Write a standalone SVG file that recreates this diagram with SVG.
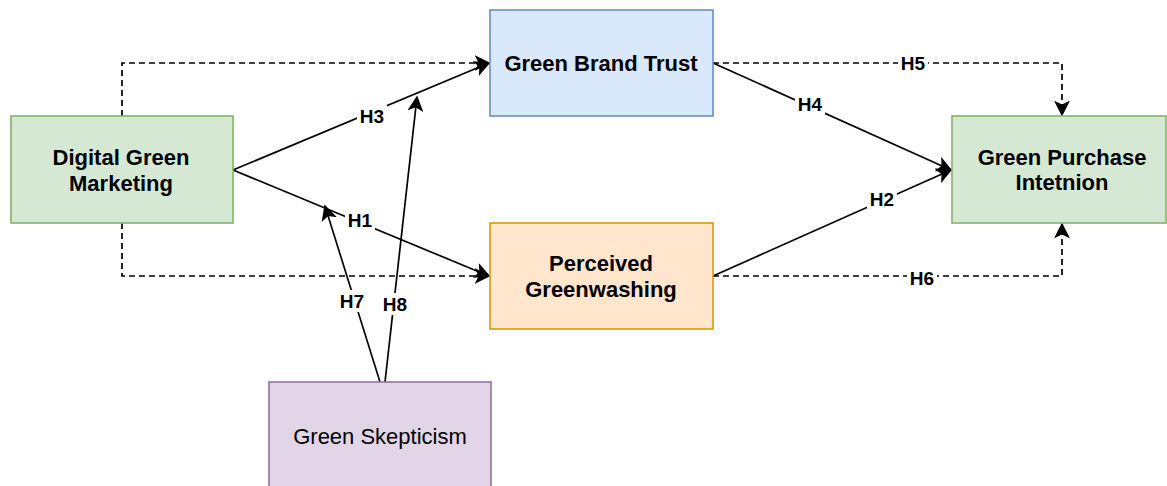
<svg xmlns="http://www.w3.org/2000/svg" width="1167" height="486" viewBox="0 0 1167 486">
<defs>
<style>
.t{font-family:"Liberation Sans",Arial,Helvetica,sans-serif;fill:#000;text-anchor:middle;dominant-baseline:central}
.b{font-weight:bold;font-size:22px}
.n{font-size:22px}
.lbl{font-family:"Liberation Sans",Arial,sans-serif;font-weight:bold;font-size:19px;text-anchor:middle;dominant-baseline:central}
.c{fill:none;stroke:#000;stroke-width:1.7}
.d{stroke-dasharray:6 4}
</style>
<marker id="ah2" viewBox="0 0 10 10" refX="9" refY="5" markerWidth="16" markerHeight="16" markerUnits="userSpaceOnUse" orient="auto">
<path d="M0,0 L10,5 L0,10 L2.5,5 Z" fill="#000"/>
</marker>
</defs>
<rect width="1167" height="486" fill="#fff"/>
<g id="connectors">
<path class="c d" d="M122,116 V63 H489" marker-end="url(#ah2)"/>
<path class="c d" d="M122,223 V276 H489" marker-end="url(#ah2)"/>
<path class="c" d="M233,170 L489,63" marker-end="url(#ah2)"/>
<path class="c" d="M233,170 L489,276" marker-end="url(#ah2)"/>
<path class="c" d="M713,63 L951,170" marker-end="url(#ah2)"/>
<path class="c" d="M713,276 L951,170" marker-end="url(#ah2)"/>
<path class="c d" d="M713,63 H1062 V115" marker-end="url(#ah2)"/>
<path class="c d" d="M713,276 H1062 V224" marker-end="url(#ah2)"/>
<path class="c" d="M380,382 L325,206" marker-end="url(#ah2)"/>
<path class="c" d="M385,382 L417,97" marker-end="url(#ah2)"/>
<g id="labels">
<rect x="357" y="105" width="30" height="22" fill="#fff"/><text class="lbl" x="372" y="116">H3</text>
<rect x="345" y="209" width="30" height="22" fill="#fff"/><text class="lbl" x="360" y="220">H1</text>
<rect x="795" y="93" width="30" height="22" fill="#fff"/><text class="lbl" x="810" y="104">H4</text>
<rect x="867" y="188" width="30" height="22" fill="#fff"/><text class="lbl" x="882" y="199">H2</text>
<rect x="898" y="52" width="30" height="22" fill="#fff"/><text class="lbl" x="913" y="63">H5</text>
<rect x="907" y="267" width="30" height="22" fill="#fff"/><text class="lbl" x="922" y="278">H6</text>
<rect x="337" y="290" width="30" height="22" fill="#fff"/><text class="lbl" x="352" y="301">H7</text>
<rect x="380" y="293" width="30" height="22" fill="#fff"/><text class="lbl" x="395" y="304">H8</text>
</g>
</g>
<g id="dgm">
<rect x="11" y="116" width="222" height="107" fill="#d5e8d4" stroke="#82b366" stroke-width="1.6"/>
<text class="t b" x="121" y="157">Digital Green</text>
<text class="t b" x="121" y="183">Marketing</text>
</g>
<g id="gbt">
<rect x="490" y="10" width="223" height="106" fill="#dae8fc" stroke="#6c8ebf" stroke-width="1.6"/>
<text class="t b" x="601" y="63">Green Brand Trust</text>
</g>
<g id="pg">
<rect x="490" y="223" width="223" height="106" fill="#ffe6cc" stroke="#d79b00" stroke-width="1.6"/>
<text class="t b" x="601" y="263">Perceived</text>
<text class="t b" x="601" y="289">Greenwashing</text>
</g>
<g id="gpi">
<rect x="952" y="116" width="214" height="107" fill="#d5e8d4" stroke="#82b366" stroke-width="1.6"/>
<text class="t b" x="1062" y="157">Green Purchase</text>
<text class="t b" x="1062" y="182">Intetnion</text>
</g>
<g id="gs">
<rect x="269" y="382" width="222" height="110" fill="#e1d5e7" stroke="#9673a6" stroke-width="1.6"/>
<text class="t n" x="380" y="436">Green Skepticism</text>
</g>
</svg>
